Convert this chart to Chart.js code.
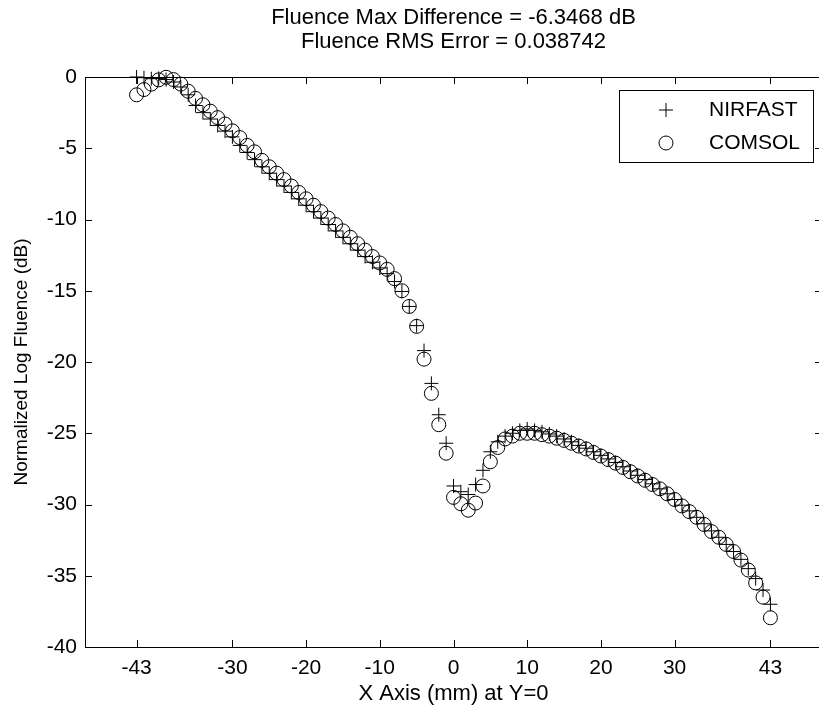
<!DOCTYPE html>
<html>
<head>
<meta charset="utf-8">
<script src="https://cdn.jsdelivr.net/npm/chart.js@4/dist/chart.umd.min.js"></script>
<style>
    html, body { margin: 0; padding: 0; background: #fff; overflow: hidden; }
    #wrap { width: 830px; height: 707px; }
</style>
</head>
<body>
<div id="wrap"><canvas id="fluence-chart" width="830" height="707"></canvas></div>
<script>
// Profile along Y=0, one sample per mm
const xPositions = [
    -43, -42, -41, -40, -39, -38, -37, -36, -35, -34, -33, -32, -31, -30, -29,
    -28, -27, -26, -25, -24, -23, -22, -21, -20, -19, -18, -17, -16, -15, -14,
    -13, -12, -11, -10, -9, -8, -7, -6, -5, -4, -3, -2, -1, 0, 1,
    2, 3, 4, 5, 6, 7, 8, 9, 10, 11, 12, 13, 14, 15, 16,
    17, 18, 19, 20, 21, 22, 23, 24, 25, 26, 27, 28, 29, 30, 31,
    32, 33, 34, 35, 36, 37, 38, 39, 40, 41, 42, 43
];

const nirfastValues = [
    0.00, -0.05, -0.12, -0.10, -0.18, -0.35, -0.70, -1.25, -2.00, -2.50, -2.95, -3.40, -3.80, -4.20, -4.80,
    -5.30, -5.80, -6.30, -6.75, -7.20, -7.65, -8.10, -8.55, -9.00, -9.45, -9.90, -10.35, -10.80, -11.25, -11.70,
    -12.15, -12.60, -13.00, -13.40, -13.80, -14.35, -15.05, -16.10, -17.45, -19.20, -21.50, -23.70, -25.70, -28.70, -29.10,
    -29.30, -28.60, -27.60, -26.30, -25.60, -25.20, -25.00, -24.80, -24.70, -24.80, -24.90, -25.05, -25.20, -25.40, -25.60,
    -25.85, -26.05, -26.30, -26.55, -26.80, -27.05, -27.35, -27.65, -27.95, -28.25, -28.55, -28.90, -29.25, -29.65, -30.05,
    -30.45, -30.90, -31.35, -31.85, -32.30, -32.80, -33.30, -33.85, -34.50, -35.20, -36.00, -37.00
];

const comsolValues = [
    -1.25, -0.88, -0.50, -0.20, -0.02, -0.18, -0.50, -1.00, -1.50, -1.95, -2.40, -2.85, -3.30, -3.78, -4.25,
    -4.80, -5.25, -5.85, -6.30, -6.75, -7.20, -7.65, -8.10, -8.55, -9.00, -9.45, -9.90, -10.35, -10.80, -11.25,
    -11.70, -12.15, -12.60, -13.05, -13.50, -14.15, -15.00, -16.10, -17.50, -19.80, -22.20, -24.40, -26.40, -29.50, -29.95,
    -30.40, -29.90, -28.70, -27.00, -26.00, -25.40, -25.20, -25.00, -25.00, -25.00, -25.10, -25.20, -25.35, -25.50, -25.70,
    -25.90, -26.10, -26.35, -26.60, -26.85, -27.10, -27.40, -27.70, -28.00, -28.30, -28.60, -28.90, -29.25, -29.65, -30.10,
    -30.50, -30.90, -31.40, -31.90, -32.30, -32.80, -33.30, -33.90, -34.60, -35.50, -36.50, -37.95
];

const xTickValues = [-43, -30, -20, -10, 0, 10, 20, 30, 43];
const yTickValues = [0, -5, -10, -15, -20, -25, -30, -35, -40];

const titleLines = ['Fluence Max Difference = -6.3468 dB', 'Fluence RMS Error = 0.038742'];
const seriesNames = ['NIRFAST', 'COMSOL'];

const FONT = '"Liberation Sans", Arial, Helvetica, sans-serif';
const TICK_LEN = 7;

const toPoints = (vals) => xPositions.map((x, i) => ({ x: x, y: vals[i] }));

// title centred over the axes box, not the canvas
const plotTitle = {
    id: 'plotTitle',
    afterDraw(chart) {
        const { ctx, chartArea } = chart;
        const cx = (chartArea.left + chartArea.right) / 2;
        ctx.save();
        ctx.fillStyle = '#000';
        ctx.font = '22px ' + FONT;
        ctx.textAlign = 'center';
        ctx.textBaseline = 'middle';
        titleLines.forEach((line, i) => ctx.fillText(line, cx, 18 + i * 24));
        ctx.restore();
    }
};

// closed box with inward ticks on all four sides
const boxAxes = {
    id: 'boxAxes',
    afterDraw(chart) {
        const { ctx, chartArea: a, scales } = chart;
        ctx.save();
        ctx.strokeStyle = '#000';
        ctx.lineWidth = 1;
        ctx.beginPath();
        ctx.rect(Math.round(a.left) + 0.5, Math.round(a.top) + 0.5,
                 Math.round(a.right - a.left), Math.round(a.bottom - a.top));
        xTickValues.forEach(v => {
            const px = Math.round(scales.x.getPixelForValue(v)) + 0.5;
            ctx.moveTo(px, a.bottom); ctx.lineTo(px, a.bottom - TICK_LEN);
            ctx.moveTo(px, a.top); ctx.lineTo(px, a.top + TICK_LEN);
        });
        yTickValues.forEach(v => {
            const py = Math.round(scales.y.getPixelForValue(v)) + 0.5;
            ctx.moveTo(a.left, py); ctx.lineTo(a.left + TICK_LEN, py);
            ctx.moveTo(a.right, py); ctx.lineTo(a.right - TICK_LEN, py);
        });
        ctx.stroke();
        ctx.restore();
    }
};

// legend box in the upper right corner of the axes
const boxLegend = {
    id: 'boxLegend',
    afterDraw(chart) {
        const { ctx, chartArea: a } = chart;
        const right = a.right - 9, top = a.top + 13;
        const w = 194, h = 72;
        const left = right - w;
        ctx.save();
        ctx.fillStyle = '#fff';
        ctx.fillRect(left, top, w, h);
        ctx.strokeStyle = '#000';
        ctx.lineWidth = 1;
        ctx.strokeRect(Math.round(left) + 0.5, Math.round(top) + 0.5, w, h);
        ctx.font = '21px ' + FONT;
        ctx.textBaseline = 'middle';
        ctx.textAlign = 'left';
        chart.data.datasets.forEach((ds, i) => {
            const cy = top + 20 + i * 33;
            ctx.strokeStyle = '#000';
            ctx.fillStyle = 'rgba(0,0,0,0)';
            Chart.helpers.drawPoint(ctx, {
                pointStyle: ds.pointStyle, radius: ds.pointRadius, rotation: 0, borderWidth: 1
            }, left + 47, cy);
            ctx.fillStyle = '#000';
            ctx.fillText(ds.label, left + 90, cy);
        });
        ctx.restore();
    }
};

const tickFont = { family: FONT, size: 21 };

new Chart(document.getElementById('fluence-chart'), {
    type: 'scatter',
    data: {
        datasets: [
            {
                label: seriesNames[0],
                data: toPoints(nirfastValues),
                pointStyle: 'cross',
                pointRadius: 7,
                borderColor: '#000',
                backgroundColor: 'rgba(0,0,0,0)',
                borderWidth: 1,
                clip: false
            },
            {
                label: seriesNames[1],
                data: toPoints(comsolValues),
                pointStyle: 'circle',
                pointRadius: 7,
                borderColor: '#000',
                backgroundColor: 'rgba(0,0,0,0)',
                borderWidth: 1,
                clip: false
            }
        ]
    },
    options: {
        responsive: false,
        animation: false,
        devicePixelRatio: 1,
        layout: { padding: { top: 77, right: 5, left: 0, bottom: 0 } },
        plugins: {
            legend: { display: false },
            title: { display: false },
            tooltip: { enabled: false }
        },
        elements: { point: { hoverRadius: 7 } },
        scales: {
            x: {
                type: 'linear',
                min: -50,
                max: 50,
                afterBuildTicks: (s) => { s.ticks = xTickValues.map(v => ({ value: v })); },
                afterFit: (s) => { s.height = 60; },
                grid: { display: false, drawTicks: false },
                border: { display: false },
                ticks: { color: '#000', font: tickFont, padding: 9, maxRotation: 0, autoSkip: false },
                title: {
                    display: true,
                    text: 'X Axis (mm) at Y=0',
                    color: '#000',
                    font: { family: FONT, size: 22 },
                    padding: { top: 0, bottom: 0 }
                }
            },
            y: {
                type: 'linear',
                min: -40,
                max: 0,
                afterBuildTicks: (s) => { s.ticks = yTickValues.map(v => ({ value: v })); },
                afterFit: (s) => { s.width = 85; },
                grid: { display: false, drawTicks: false },
                border: { display: false },
                ticks: { color: '#000', font: tickFont, padding: 8, autoSkip: false },
                title: {
                    display: true,
                    text: 'Normalized Log Fluence (dB)',
                    color: '#000',
                    font: { family: FONT, size: 19 },
                    padding: { top: 10, bottom: 0 }
                }
            }
        }
    },
    plugins: [plotTitle, boxAxes, boxLegend]
});
</script>
</body>
</html>
